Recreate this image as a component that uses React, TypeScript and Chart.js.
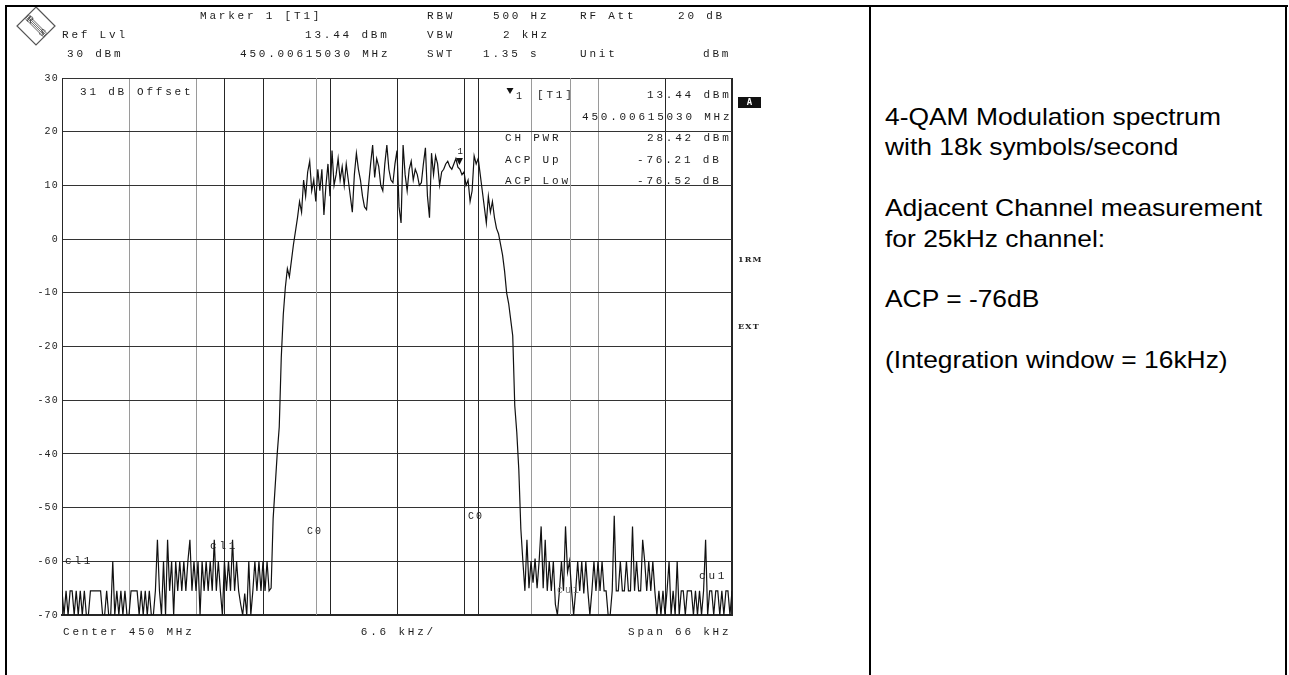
import React, { useEffect, useRef } from 'react';
import { Chart, registerables } from 'chart.js';

Chart.register(...registerables);

// ---- data ----
const SPAN_START_KHZ = -33;
const SPAN_STOP_KHZ = 33;
const X_GRID_KHZ = [-33, -26.4, -19.8, -13.2, -6.6, 0, 6.6, 13.2, 19.8, 26.4, 33];
const X_GRID_TONE = ['dark', 'gray', 'gray', 'dark', 'dark', 'dark', 'dark', 'gray', 'gray', 'dark', 'dark'];
const Y_MIN_DBM = -70;
const Y_MAX_DBM = 30;
const Y_STEP_DB = 10;
const CHANNEL_EDGES_KHZ = [-17, -8, 8, 17];
const CHANNEL_EDGE_TONE = ['dark', 'gray', 'dark', 'gray'];
const MARKER_KHZ = 6.1503;
const MARKER_DBM = 13.44;

// trace levels (dBm), one per sweep point across the 66 kHz span
const LEVELS_DBM = [
  -65.5, -70, -65.5, -70, -65.5, -65.5, -70, -65.5, -70, -65.5,
  -70, -65.5, -70, -70, -65.5, -65.5, -65.5, -65.5, -65.5, -65.5,
  -70, -70, -65.5, -70, -70, -60, -70, -65.5, -70, -65.5,
  -70, -65.5, -70, -70, -65.5, -65.5, -65.5, -65.5, -70, -65.5,
  -70, -65.5, -70, -65.5, -70, -70, -65.5, -56, -65.5, -70,
  -60, -70, -56, -65.5, -60, -70, -60, -65.5, -60, -65.5,
  -60, -65.5, -60, -56, -65.5, -60, -65.5, -60, -70, -60,
  -65.5, -60, -65.5, -60, -65.5, -56, -65.5, -60, -65.5, -70,
  -60, -65.5, -60, -65.5, -56, -65.5, -60, -65.5, -68, -70,
  -66, -70, -60, -70, -65.5, -60, -65.5, -60, -65.5, -60,
  -65.5, -60, -65.5, -65, -52, -46, -40, -35, -22, -14,
  -9, -5.5, -7, -4, -1, 1.5, 4, 7, 5, 11,
  8, 12.5, 14.5, 9, 11, 7, 13, 9, 13, 4.5,
  10, 14, 8, 16.5, 10, 12, 15, 11, 13.5, 10,
  14, 11, 8, 5, 12, 16, 13, 11, 8, 6,
  5.5, 10, 14, 17.5, 11.5, 15, 13.5, 10, 9, 14,
  17.5, 13, 11, 10.5, 14, 16.5, 6, 3, 17.5, 12,
  9, 13, 14.5, 11, 13, 12, 10, 10.5, 14, 17,
  8, 4, 16, 12, 15.5, 14, 10, 12.5, 13, 14,
  14.5, 13.5, 13, 14, 15, 13.4, 13, 12, 12.5, 10,
  11, 7, 9, 15.5, 14, 15, 12, 9, 6, 3,
  8, 5, 7, 4, 2, 1, -1, -3, -6, -10,
  -12, -15, -18, -31, -36, -43, -54, -60, -65.5, -56,
  -65, -60, -64, -59.5, -65, -60, -53.5, -65, -56, -65.5,
  -60, -65.5, -60, -68, -70, -65.5, -60, -65.5, -53.5, -62,
  -60, -65.5, -70, -65.5, -60, -65.5, -60, -66, -60, -65.5,
  -70, -65.5, -60, -65.5, -60, -65.5, -60, -65.5, -65.5, -70,
  -70, -65.5, -51.5, -65.5, -65.5, -60, -65.5, -65.5, -60, -65.5,
  -65.5, -53.5, -65.5, -60, -65.5, -65.5, -56, -60, -65.5, -60,
  -65.5, -60, -65.5, -70, -65.5, -70, -65.5, -70, -65.5, -60,
  -70, -65.5, -70, -60, -70, -65.5, -65.5, -70, -65.5, -65.5,
  -65.5, -70, -65.5, -70, -65.5, -70, -65.5, -56, -70, -65.5,
  -65.5, -70, -65.5, -65.5, -70, -65.5, -70, -65.5, -65.5, -70,
  -65.5,
];

// ---- texts ----
const HEADER_MARKER = 'Marker 1 [T1]';
const HEADER_REF = 'Ref Lvl';
const HEADER_REF_VAL = '30 dBm';
const HEADER_MKR_LVL = '13.44 dBm';
const HEADER_MKR_FREQ = '450.00615030 MHz';
const HEADER_RBW = ['RBW', '500 Hz'];
const HEADER_VBW = ['VBW', '2 kHz'];
const HEADER_SWT = ['SWT', '1.35 s'];
const HEADER_ATT = ['RF Att', '20 dB'];
const HEADER_UNIT = ['Unit', 'dBm'];
const OFFSET_TEXT = ['31 dB', 'Offset'];
const MARKER_TABLE = [
  ['[T1]', '13.44 dBm'],
  ['', '450.00615030 MHz'],
  ['CH PWR', '28.42 dBm'],
  ['ACP Up', '-76.21 dB'],
  ['ACP Low', '-76.52 dB'],
];
const FOOTER = ['Center 450 MHz', '6.6 kHz/', 'Span 66 kHz'];
const SIDE_LABELS = ['A', '1RM', 'EXT'];
const CHANNEL_LABELS = ['cl1', 'C0', 'cu1'];
const NOTE_LINES = [
  '4-QAM Modulation spectrum',
  'with 18k symbols/second',
  '',
  'Adjacent Channel measurement',
  'for 25kHz channel:',
  '',
  'ACP = -76dB',
  '',
  '(Integration window = 16kHz)',
];

const DARK = '#262626';
const GRAY = '#9a9a9a';
const MONO = '11px "Liberation Mono", monospace';
const INK = '#1c1c1c';

function text(ctx: CanvasRenderingContext2D, s: string, x: number, y: number, font = MONO, ls = '2.8px', color = INK, align: CanvasTextAlign = 'left') {
  ctx.save();
  ctx.font = font;
  (ctx as any).letterSpacing = ls;
  ctx.fillStyle = color;
  ctx.textAlign = align;
  ctx.textBaseline = 'middle';
  ctx.fillText(s, x, y);
  ctx.restore();
}

const overlay = {
  id: 'overlay',
  beforeDraw(chart: any) {
    (chart.ctx as any).letterSpacing = '1.2px';
  },
  beforeDatasetsDraw(chart: any) {
    const { ctx, chartArea: a, scales } = chart;
    ctx.save();
    CHANNEL_EDGES_KHZ.forEach((f, k) => {
      const px = Math.round(scales.x.getPixelForValue(f)) + 0.5;
      ctx.strokeStyle = CHANNEL_EDGE_TONE[k] === 'dark' ? DARK : GRAY;
      ctx.lineWidth = 1;
      ctx.beginPath();
      ctx.moveTo(px, a.top);
      ctx.lineTo(px, a.bottom);
      ctx.stroke();
    });
    ctx.restore();
  },
  afterDraw(chart: any) {
    const { ctx, scales, chartArea: a } = chart;
    (ctx as any).letterSpacing = '0px';
    const xs = scales.x;
    const ys = scales.y;

    // R&S logo
    ctx.save();
    ctx.strokeStyle = '#555';
    ctx.lineWidth = 1.2;
    ctx.beginPath();
    ctx.moveTo(36, 7); ctx.lineTo(55, 26); ctx.lineTo(36, 45); ctx.lineTo(17, 26); ctx.closePath();
    ctx.stroke();
    ctx.lineWidth = 0.9;
    for (const d of [-2.4, -0.8, 0.8, 2.4]) {
      const ox = d * 0.707, oy = -d * 0.707;
      ctx.beginPath();
      ctx.moveTo(26.5 + ox, 16.5 + oy);
      ctx.lineTo(45.5 + ox, 35.5 + oy);
      ctx.stroke();
    }
    ctx.fillStyle = '#444';
    ctx.font = '10px "Liberation Serif", serif';
    ctx.textAlign = 'center';
    ctx.textBaseline = 'middle';
    ctx.save(); ctx.translate(30, 20); ctx.rotate(0.6); ctx.fillText('R', 0, 0); ctx.restore();
    ctx.save(); ctx.translate(42, 33); ctx.rotate(0.6); ctx.fillText('S', 0, 0); ctx.restore();
    ctx.restore();

    // header
    const r1 = 16, r2 = 35, r3 = 54;
    text(ctx, HEADER_MARKER, 200, r1);
    text(ctx, HEADER_REF, 62, r2);
    text(ctx, HEADER_MKR_LVL, 305, r2);
    text(ctx, HEADER_REF_VAL, 67, r3);
    text(ctx, HEADER_MKR_FREQ, 240, r3);
    text(ctx, HEADER_RBW[0], 427, r1); text(ctx, HEADER_RBW[1], 493, r1);
    text(ctx, HEADER_ATT[0], 580, r1); text(ctx, HEADER_ATT[1], 678, r1);
    text(ctx, HEADER_VBW[0], 427, r2); text(ctx, HEADER_VBW[1], 503, r2);
    text(ctx, HEADER_SWT[0], 427, r3); text(ctx, HEADER_SWT[1], 483, r3);
    text(ctx, HEADER_UNIT[0], 580, r3); text(ctx, HEADER_UNIT[1], 703, r3);

    // in-plot info
    text(ctx, OFFSET_TEXT[0], 80, 92);
    text(ctx, OFFSET_TEXT[1], 137, 92);
    ctx.save();
    ctx.fillStyle = '#111';
    ctx.beginPath(); ctx.moveTo(506.5, 88); ctx.lineTo(513.5, 88); ctx.lineTo(510, 94); ctx.closePath(); ctx.fill();
    ctx.restore();
    text(ctx, '1', 516, 96, '10px "Liberation Mono", monospace', '0px');
    const rowsY = [95, 117, 138.5, 160, 181];
    MARKER_TABLE.forEach(([l, r], k) => {
      if (l) text(ctx, l, k === 0 ? 537 : 505, rowsY[k]);
      const rx = k === 1 ? 582 : k >= 3 ? 637 : 647;
      text(ctx, r, rx, rowsY[k]);
    });

    // trace marker
    const mx = xs.getPixelForValue(MARKER_KHZ);
    const my = ys.getPixelForValue(MARKER_DBM);
    ctx.save();
    ctx.fillStyle = '#111';
    ctx.beginPath(); ctx.moveTo(mx - 3.5, my - 9); ctx.lineTo(mx + 3.5, my - 9); ctx.lineTo(mx, my - 2); ctx.closePath(); ctx.fill();
    ctx.restore();
    text(ctx, '1', mx - 2, my - 15, '9px "Liberation Mono", monospace', '0px');

    // channel labels
    text(ctx, CHANNEL_LABELS[0], 65, ys.getPixelForValue(-60));
    text(ctx, CHANNEL_LABELS[0], 210, 546);
    text(ctx, CHANNEL_LABELS[1], 307, 531, '10px "Liberation Mono", monospace', '2px');
    text(ctx, CHANNEL_LABELS[1], 468, 516, '10px "Liberation Mono", monospace', '2px');
    text(ctx, CHANNEL_LABELS[2], 699, 576);
    text(ctx, CHANNEL_LABELS[2], 557, 590, '10px "Liberation Mono", monospace', '2px', '#777');

    // footer
    text(ctx, FOOTER[0], 63, 632);
    text(ctx, FOOTER[1], (a.left + a.right) / 2 + 1.4, 632, MONO, '2.8px', INK, 'center');
    text(ctx, FOOTER[2], 628, 632);

    // side labels
    ctx.save();
    ctx.fillStyle = '#111';
    ctx.fillRect(738, 97, 23, 11);
    ctx.restore();
    text(ctx, SIDE_LABELS[0], 749.5, 102.5, 'bold 9px "DejaVu Sans Mono", monospace', '0px', '#fff', 'center');
    text(ctx, SIDE_LABELS[1], 738, 260, 'bold 8px "DejaVu Serif", serif', '1.2px', '#222');
    text(ctx, SIDE_LABELS[2], 738, 327, 'bold 8px "DejaVu Serif", serif', '1.2px', '#222');
  },
};

export default function App() {
  const ref = useRef<HTMLCanvasElement>(null);

  useEffect(() => {
    const n = LEVELS_DBM.length;
    const stepKHz = (SPAN_STOP_KHZ - SPAN_START_KHZ) / (n - 1);
    const points = LEVELS_DBM.map((v, i) => ({ x: SPAN_START_KHZ + i * stepKHz, y: v }));

    const chart = new Chart(ref.current!, {
      type: 'line',
      data: {
        datasets: [
          {
            data: points,
            borderColor: '#111',
            borderWidth: 1.2,
            pointRadius: 0,
            tension: 0,
            fill: false,
          },
        ],
      },
      options: {
        animation: false,
        responsive: false,
        devicePixelRatio: 1,
        parsing: false,
        normalized: true,
        events: [],
        layout: { autoPadding: false, padding: { left: 0, top: 78, right: 138, bottom: 60 } },
        plugins: { legend: { display: false }, tooltip: { enabled: false }, title: { display: false } },
        scales: {
          x: {
            type: 'linear',
            min: SPAN_START_KHZ,
            max: SPAN_STOP_KHZ,
            afterBuildTicks: (axis: any) => {
              axis.ticks = X_GRID_KHZ.map((v) => ({ value: v }));
            },
            afterFit: (axis: any) => { axis.height = 0; },
            ticks: { display: false },
            grid: {
              drawTicks: false,
              color: (c: any) => (X_GRID_TONE[c.index] === 'gray' ? GRAY : DARK),
              lineWidth: (c: any) => (c.index === X_GRID_KHZ.length - 1 ? 2 : 1),
            },
            border: { display: true, color: DARK, width: 2 },
          },
          y: {
            type: 'linear',
            min: Y_MIN_DBM,
            max: Y_MAX_DBM,
            ticks: {
              stepSize: Y_STEP_DB,
              color: '#222',
              padding: 3,
              font: { family: '"Liberation Mono", monospace', size: 10 },
            },
            afterFit: (axis: any) => { axis.width = 62; },
            grid: { drawTicks: false, color: '#333', lineWidth: 1 },
            border: { display: true, color: DARK, width: 1 },
          },
        },
      },
      plugins: [overlay],
    } as any);

    return () => chart.destroy();
  }, []);

  const line = (l: number, t: number, w: number, h: number) => (
    <div style={{ position: 'absolute', left: l, top: t, width: w, height: h, background: '#000' }} />
  );

  return (
    <div style={{ position: 'fixed', left: 0, top: 0, width: 1289, height: 675, background: '#fff', overflow: 'hidden' }}>
      <canvas ref={ref} width={870} height={675} style={{ position: 'absolute', left: 0, top: 0, width: 870, height: 675 }} />
      {line(5, 5, 1283, 2)}
      {line(5, 5, 2, 670)}
      {line(869, 5, 2, 670)}
      {line(1285, 5, 2, 670)}
      <div
        style={{
          position: 'absolute',
          left: 885,
          top: 102,
          fontFamily: '"Liberation Sans", Arial, sans-serif',
          fontSize: 24,
          lineHeight: '30.4px',
          color: '#000',
          whiteSpace: 'pre',
          transform: 'scaleX(1.1)',
          transformOrigin: 'left top',
        }}
      >
        {NOTE_LINES.map((s, i) => (
          <div key={i}>{s === '' ? '\u00a0' : s}</div>
        ))}
      </div>
    </div>
  );
}
